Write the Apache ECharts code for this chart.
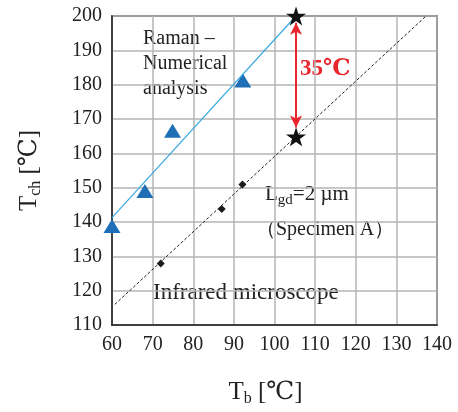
<!DOCTYPE html>
<html>
<head>
<meta charset="utf-8">
<script src="https://cdn.jsdelivr.net/npm/echarts@6/dist/echarts.min.js"></script>
<style>
    html, body { margin: 0; padding: 0; background: #fff; }
    #chart { width: 458px; height: 412px; }
</style>
</head>
<body>
<div id="chart"></div>
<script>
    // axis ticks
    const xTicks = [60, 70, 80, 90, 100, 110, 120, 130, 140]
    const yTicks = [110, 120, 130, 140, 150, 160, 170, 180, 190, 200]

    // Raman - numerical analysis (triangles) and its fit line
    const ramanTb = [60, 68.1, 74.9, 92.2]
    const ramanTch = [138.8, 149.0, 166.6, 181.2]
    const ramanFitTb = [60, 105.3]
    const ramanFitTch = [141.3, 200]

    // infrared microscope (diamonds) and its fit line
    const irTb = [72.0, 87.0, 92.1]
    const irTch = [127.9, 143.8, 150.9]
    const irFitTb = [60.7, 137.3]
    const irFitTch = [116, 200]

    // the two stars at Tb = 105.3 and the 35 degree gap between them
    const starTb = [105.3, 105.3]
    const starTch = [200, 164.8]
    const gapFrom = [105.3, 198.0]
    const gapTo = [105.3, 167.5]

    const pairs = (xs, ys) => xs.map((x, i) => [x, ys[i]])

    const serif = '"Liberation Serif", "DejaVu Serif", serif'
    const starPath = 'path://M50,0 L61.8,36.2 L100,36.2 L69.1,58.8 L80.9,95.1 L50,72.7 L19.1,95.1 L30.9,58.8 L0,36.2 L38.2,36.2 Z'

    const chart = echarts.init(document.getElementById('chart'))
    chart.setOption({
        animation: false,
        grid: {
            left: 112,
            right: 21,
            top: 16,
            bottom: 84,
            show: true,
            borderColor: '#222',
            borderWidth: 1.5
        },
        xAxis: {
            type: 'value',
            min: xTicks[0],
            max: xTicks[xTicks.length - 1],
            interval: 10,
            axisLine: { show: true, lineStyle: { color: '#222', width: 1.5 } },
            axisTick: { show: false },
            splitLine: { lineStyle: { color: '#b5b5b5', width: 1.5 } },
            axisLabel: { fontFamily: serif, fontSize: 20, color: '#222', margin: 10 },
            name: '{t|T}{s|b}{t| [℃]}',
            nameLocation: 'middle',
            nameGap: 52,
            nameTextStyle: {
                padding: [0, 18, 0, 0],
                rich: {
                    t: { fontFamily: serif, fontSize: 25, color: '#222', lineHeight: 30 },
                    s: { fontFamily: serif, fontSize: 16, color: '#222', lineHeight: 16, padding: [14, 0, 0, 0] }
                }
            }
        },
        yAxis: {
            type: 'value',
            min: yTicks[0],
            max: yTicks[yTicks.length - 1],
            interval: 10,
            axisLine: { show: true, lineStyle: { color: '#222', width: 1.5 } },
            axisTick: { show: false },
            splitLine: { lineStyle: { color: '#b5b5b5', width: 1.5 } },
            axisLabel: { fontFamily: serif, fontSize: 20, color: '#222', margin: 10 },
            name: '{t|T}{s|ch}{t| [℃]}',
            nameLocation: 'middle',
            nameGap: 68,
            nameTextStyle: {
                rich: {
                    t: { fontFamily: serif, fontSize: 25, color: '#222', lineHeight: 30 },
                    s: { fontFamily: serif, fontSize: 16, color: '#222', lineHeight: 16, padding: [14, 0, 0, 0] }
                }
            }
        },
        series: [
            {
                type: 'line',
                data: pairs(ramanFitTb, ramanFitTch),
                showSymbol: false,
                lineStyle: { color: '#3aa9e0', width: 1.2 },
                silent: true
            },
            {
                type: 'line',
                data: pairs(irFitTb, irFitTch),
                showSymbol: false,
                lineStyle: { color: '#222', width: 1, type: [3, 2] },
                silent: true
            },
            {
                type: 'scatter',
                data: pairs(ramanTb, ramanTch),
                symbol: 'triangle',
                symbolSize: [17, 14],
                itemStyle: { color: '#1e6fb6', opacity: 1 }
            },
            {
                type: 'scatter',
                data: pairs(irTb, irTch),
                symbol: 'diamond',
                symbolSize: 8,
                itemStyle: { color: '#1a1a1a', opacity: 1 }
            },
            {
                type: 'scatter',
                data: pairs(starTb, starTch),
                symbol: starPath,
                symbolSize: [20, 19],
                itemStyle: { color: '#111', opacity: 1 },
                z: 5,
                markLine: {
                    silent: true,
                    symbol: ['arrow', 'arrow'],
                    symbolSize: [9, 12],
                    label: { show: false },
                    lineStyle: { color: '#e8262c', width: 2, type: 'solid' },
                    data: [[{ coord: gapFrom }, { coord: gapTo }]]
                }
            }
        ],
        graphic: [
            {
                type: 'text', left: 143, top: 26,
                style: { text: 'Raman –\nNumerical\nanalysis', font: '20px ' + serif, fill: '#222', lineHeight: 25 }
            },
            {
                type: 'text', left: 300, top: 58,
                style: { text: '35℃', font: 'bold 23px ' + serif, fill: '#e8262c' }
            },
            {
                type: 'text', left: 265, top: 181,
                style: {
                    text: '{t|L}{s|gd}{t|=2 µm}',
                    rich: {
                        t: { font: '21px ' + serif, fill: '#222', lineHeight: 26 },
                        s: { font: '15px ' + serif, fill: '#222', lineHeight: 15, padding: [12, 0, 0, 0] }
                    }
                }
            },
            {
                type: 'text', left: 256, top: 220,
                style: { text: '（Specimen A）', font: '20px ' + serif, fill: '#222' }
            },
            {
                type: 'text', left: 153, top: 281,
                style: { text: 'Infrared microscope', font: '23px ' + serif, fill: '#222' }
            }
        ]
    })
</script>
</body>
</html>
